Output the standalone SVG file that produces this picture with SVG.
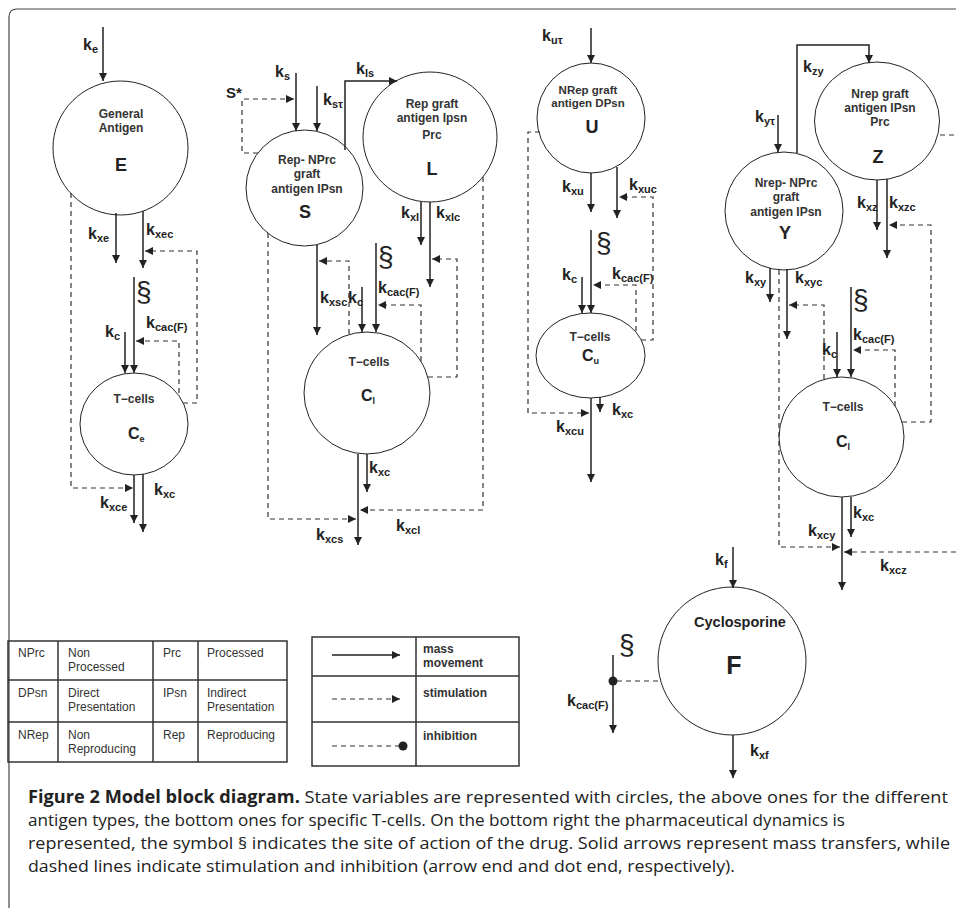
<svg xmlns="http://www.w3.org/2000/svg" width="956" height="908" viewBox="0 0 956 908">
<style>
.k{font-family:"Liberation Sans",Arial,sans-serif;font-weight:bold;font-size:16px;fill:#222}
.s{font-size:11px}
.nt{font-family:"Liberation Sans",Arial,sans-serif;font-weight:bold;font-size:12px;fill:#333;text-anchor:middle}
.big{font-family:"Liberation Sans",Arial,sans-serif;font-weight:bold;font-size:18px;fill:#222;text-anchor:middle}
.cc{font-family:"Liberation Sans",Arial,sans-serif;font-weight:bold;font-size:16px;fill:#222}
.cs{font-size:9px}
.sec{font-family:"Liberation Sans",Arial,sans-serif;font-size:28px;fill:#222}
.tb{font-family:"Liberation Sans",Arial,sans-serif;font-size:12px;fill:#333}
.lg{font-family:"Liberation Sans",Arial,sans-serif;font-weight:bold;font-size:12px;fill:#333}
.cap{font-family:"Open Sans","Liberation Sans",Arial,sans-serif;font-size:17px;fill:#222}
.node{fill:#fff;stroke:#222;stroke-width:1}
.m{fill:none;stroke:#222;stroke-width:1.5}
.d{fill:none;stroke:#333;stroke-width:1.2;stroke-dasharray:5,4}
.box{fill:none;stroke:#333;stroke-width:1.5}
</style>
<defs>
<marker id="ah" viewBox="0 0 10 10" refX="10" refY="5" markerWidth="8" markerHeight="8" markerUnits="userSpaceOnUse" orient="auto"><path d="M0,0 L10,5 L0,10 z" fill="#222"/></marker>
</defs>
<path d="M9,908 V17 Q9,9 17,9 H956" fill="none" stroke="#444" stroke-width="1.2"/>

<g id="E"><ellipse class="node" cx="120.5" cy="148" rx="67.5" ry="67"/>
<text class="nt" x="121" y="118">General</text><text class="nt" x="121" y="132">Antigen</text>
<text class="big" x="121" y="171">E</text></g>
<g id="Ce"><ellipse class="node" cx="134" cy="424" rx="54" ry="51"/>
<text class="nt" x="134" y="403">T−cells</text>
<text class="cc" x="128" y="439">C<tspan class="cs" dy="3">e</tspan></text></g>

<g id="S"><ellipse class="node" cx="304.5" cy="188" rx="58.5" ry="58"/>
<text class="nt" x="307" y="164">Rep- NPrc</text><text class="nt" x="307" y="178">graft</text><text class="nt" x="307" y="193">antigen IPsn</text>
<text class="big" x="305" y="218">S</text></g>
<g id="L"><ellipse class="node" cx="430" cy="137" rx="67" ry="65"/>
<text class="nt" x="432" y="108">Rep graft</text><text class="nt" x="432" y="122">antigen Ipsn</text><text class="nt" x="432" y="139">Prc</text>
<text class="big" x="432" y="175">L</text></g>
<g id="Cl"><ellipse class="node" cx="367" cy="393" rx="63" ry="61"/>
<text class="nt" x="369" y="366">T−cells</text>
<text class="cc" x="361" y="401">C<tspan class="cs" dy="3">l</tspan></text></g>

<g id="U"><ellipse class="node" cx="591" cy="118" rx="54" ry="55"/>
<text class="nt" x="588" y="94" style="font-size:11.5px">NRep graft</text><text class="nt" x="588" y="107" style="font-size:11.5px">antigen DPsn</text>
<text class="big" x="592" y="133">U</text></g>
<g id="Cu"><ellipse class="node" cx="590.5" cy="355.5" rx="54.5" ry="42.5"/>
<text class="nt" x="590" y="341">T−cells</text>
<text class="cc" x="582" y="361">C<tspan class="cs" dy="3">u</tspan></text></g>

<g id="Z"><ellipse class="node" cx="877" cy="121" rx="62.5" ry="59"/>
<text class="nt" x="880" y="98">Nrep graft</text><text class="nt" x="880" y="112">antigen IPsn</text><text class="nt" x="880" y="126">Prc</text>
<text class="big" x="878" y="163">Z</text></g>
<g id="Y"><ellipse class="node" cx="784" cy="211" rx="59" ry="59"/>
<text class="nt" x="786" y="187">Nrep- NPrc</text><text class="nt" x="786" y="201">graft</text><text class="nt" x="786" y="216">antigen IPsn</text>
<text class="big" x="785" y="239">Y</text></g>
<g id="Cl2"><ellipse class="node" cx="841.5" cy="437" rx="62.5" ry="60"/>
<text class="nt" x="843" y="411">T−cells</text>
<text class="cc" x="836" y="447">C<tspan class="cs" dy="3">l</tspan></text></g>

<g id="F"><ellipse class="node" cx="732" cy="661" rx="74" ry="74"/>
<text class="nt" x="740" y="627" style="font-size:14.5px;fill:#222">Cyclosporine</text>
<text class="big" x="734" y="674" style="font-size:25px">F</text></g>

<g id="connectors">
<path class="m" marker-end="url(#ah)" d="M103,27 V81"/>
<path class="m" marker-end="url(#ah)" d="M116,213 V263"/>
<path class="m" marker-end="url(#ah)" d="M143,211 V268"/>
<path class="d" marker-end="url(#ah)" d="M183,403 H197 V251 H145"/>
<path class="m" marker-end="url(#ah)" d="M134,277 V373"/>
<path class="m" marker-end="url(#ah)" d="M125,332 V373"/>
<path class="d" marker-end="url(#ah)" d="M179,393 V341 H136"/>
<path class="d" marker-end="url(#ah)" d="M71,193 V488 H133"/>
<path class="m" marker-end="url(#ah)" d="M134,475 V523"/>
<path class="m" marker-end="url(#ah)" d="M143,474 V532"/>

<path class="m" marker-end="url(#ah)" d="M296,73 V131"/>
<path class="m" marker-end="url(#ah)" d="M317,86 V131"/>
<path class="d" marker-end="url(#ah)" d="M258,153 H242 V99 H294"/>
<path class="m" marker-end="url(#ah)" d="M345,150 V81 H397"/>
<path class="m" marker-end="url(#ah)" d="M421,202 V245"/>
<path class="m" marker-end="url(#ah)" d="M430,202 V287"/>
<path class="d" marker-end="url(#ah)" d="M428,377 H457 V259 H432"/>
<path class="d" marker-end="url(#ah)" d="M483,177 V510 H360"/>
<path class="m" marker-end="url(#ah)" d="M376,243 V332"/>
<path class="m" marker-end="url(#ah)" d="M362,287 V332"/>
<path class="d" marker-end="url(#ah)" d="M421,361 V305 H378"/>
<path class="m" marker-end="url(#ah)" d="M317,245 V335"/>
<path class="d" marker-end="url(#ah)" d="M349,334 V261 H319"/>
<path class="m" marker-end="url(#ah)" d="M358,454 V545"/>
<path class="m" marker-end="url(#ah)" d="M367,454 V492"/>
<path class="d" marker-end="url(#ah)" d="M268,233 V519 H356"/>

<path class="m" marker-end="url(#ah)" d="M591,28 V63"/>
<path class="m" marker-end="url(#ah)" d="M591,173 V212"/>
<path class="m" marker-end="url(#ah)" d="M617,167 V218"/>
<path class="d" marker-end="url(#ah)" d="M641,340 H653 V197 H619"/>
<path class="m" marker-end="url(#ah)" d="M591,230 V313"/>
<path class="m" marker-end="url(#ah)" d="M582,277 V313"/>
<path class="d" marker-end="url(#ah)" d="M636,331 V285 H593"/>
<path class="d" marker-end="url(#ah)" d="M540,132 H528 V413 H589"/>
<path class="m" marker-end="url(#ah)" d="M591,398 V482"/>
<path class="m" marker-end="url(#ah)" d="M600,397 V412"/>

<path class="m" marker-end="url(#ah)" d="M797,153 V45 H869 V63"/>
<path class="m" marker-end="url(#ah)" d="M778,115 V152"/>
<path class="d" d="M940,135 H956"/>
<path class="m" marker-end="url(#ah)" d="M877,180 V230"/>
<path class="m" marker-end="url(#ah)" d="M887,179 V258"/>
<path class="d" marker-end="url(#ah)" d="M902,422 H931 V225 H889"/>
<path class="m" marker-end="url(#ah)" d="M770,268 V302"/>
<path class="m" marker-end="url(#ah)" d="M787,269 V339"/>
<path class="d" marker-end="url(#ah)" d="M779,270 V547 H840"/>
<path class="d" marker-end="url(#ah)" d="M824,379 V305 H789"/>
<path class="m" marker-end="url(#ah)" d="M851,287 V377"/>
<path class="m" marker-end="url(#ah)" d="M837,332 V377"/>
<path class="d" marker-end="url(#ah)" d="M895,406 V350 H853"/>
<path class="m" marker-end="url(#ah)" d="M842,497 V590"/>
<path class="m" marker-end="url(#ah)" d="M851,497 V537"/>
<path class="d" marker-end="url(#ah)" d="M956,552 H844"/>

<path class="m" marker-end="url(#ah)" d="M733,547 V588"/>
<path class="m" marker-end="url(#ah)" d="M733,735 V778"/>
<path class="m" marker-end="url(#ah)" d="M613,655 V733"/>
<path class="d" d="M617,681 H658"/>
<circle cx="613" cy="681" r="4.5" fill="#222"/>
</g>

<g id="labels">
<text class="k" x="83" y="50">k<tspan class="s" dy="3">e</tspan></text>
<text class="k" x="88" y="239">k<tspan class="s" dy="3">xe</tspan></text>
<text class="k" x="146" y="235">k<tspan class="s" dy="3">xec</tspan></text>
<text class="sec" x="136" y="301">§</text>
<text class="k" x="105" y="337">k<tspan class="s" dy="3">c</tspan></text>
<text class="k" x="146" y="328">k<tspan class="s" dy="3">cac(F)</tspan></text>
<text class="k" x="100" y="508">k<tspan class="s" dy="3">xce</tspan></text>
<text class="k" x="154" y="495">k<tspan class="s" dy="3">xc</tspan></text>

<text class="k" x="275" y="77">k<tspan class="s" dy="3">s</tspan></text>
<text class="k" x="226" y="98" style="font-size:15px">S*</text>
<text class="k" x="323" y="105">k<tspan class="s" dy="3">sτ</tspan></text>
<text class="k" x="356" y="74">k<tspan class="s" dy="3">ls</tspan></text>
<text class="k" x="401" y="218">k<tspan class="s" dy="3">xl</tspan></text>
<text class="k" x="436" y="218">k<tspan class="s" dy="3">xlc</tspan></text>
<text class="sec" x="378" y="266">§</text>
<text class="k" x="378" y="293">k<tspan class="s" dy="3">cac(F)</tspan></text>
<text class="k" x="320" y="303">k<tspan class="s" dy="3">xsc</tspan></text>
<text class="k" x="348" y="303">k<tspan class="s" dy="3">c</tspan></text>
<text class="k" x="369" y="473">k<tspan class="s" dy="3">xc</tspan></text>
<text class="k" x="316" y="540">k<tspan class="s" dy="3">xcs</tspan></text>
<text class="k" x="396" y="531">k<tspan class="s" dy="3">xcl</tspan></text>

<text class="k" x="542" y="41">k<tspan class="s" dy="3">uτ</tspan></text>
<text class="k" x="562" y="192">k<tspan class="s" dy="3">xu</tspan></text>
<text class="k" x="629" y="190">k<tspan class="s" dy="3">xuc</tspan></text>
<text class="sec" x="596" y="252">§</text>
<text class="k" x="562" y="280">k<tspan class="s" dy="3">c</tspan></text>
<text class="k" x="612" y="279">k<tspan class="s" dy="3">cac(F)</tspan></text>
<text class="k" x="612" y="415">k<tspan class="s" dy="3">xc</tspan></text>
<text class="k" x="556" y="432">k<tspan class="s" dy="3">xcu</tspan></text>

<text class="k" x="803" y="72">k<tspan class="s" dy="3">zy</tspan></text>
<text class="k" x="755" y="122">k<tspan class="s" dy="3">yτ</tspan></text>
<text class="k" x="857" y="208">k<tspan class="s" dy="3">xz</tspan></text>
<text class="k" x="889" y="208">k<tspan class="s" dy="3">xzc</tspan></text>
<text class="k" x="745" y="283">k<tspan class="s" dy="3">xy</tspan></text>
<text class="k" x="795" y="283">k<tspan class="s" dy="3">xyc</tspan></text>
<text class="sec" x="853" y="309">§</text>
<text class="k" x="853" y="340">k<tspan class="s" dy="3">cac(F)</tspan></text>
<text class="k" x="822" y="355">k<tspan class="s" dy="3">c</tspan></text>
<text class="k" x="853" y="518">k<tspan class="s" dy="3">xc</tspan></text>
<text class="k" x="808" y="536">k<tspan class="s" dy="3">xcy</tspan></text>
<text class="k" x="880" y="571">k<tspan class="s" dy="3">xcz</tspan></text>

<text class="k" x="715" y="565">k<tspan class="s" dy="3">f</tspan></text>
<text class="k" x="750" y="756">k<tspan class="s" dy="3">xf</tspan></text>
<text class="sec" x="619" y="654">§</text>
<text class="k" x="567" y="706">k<tspan class="s" dy="3">cac(F)</tspan></text>
</g>

<g id="abbrev-table">
<rect class="box" x="8" y="641" width="279" height="121"/>
<path class="box" d="M8,680 H287 M8,722 H287 M58,641 V762 M153,641 V762 M198,641 V762"/>
<text class="tb" x="18" y="657">NPrc</text><text class="tb" x="68" y="657">Non</text><text class="tb" x="68" y="671">Processed</text>
<text class="tb" x="163" y="657">Prc</text><text class="tb" x="207" y="657">Processed</text>
<text class="tb" x="18" y="697">DPsn</text><text class="tb" x="68" y="697">Direct</text><text class="tb" x="68" y="711">Presentation</text>
<text class="tb" x="163" y="697">IPsn</text><text class="tb" x="207" y="697">Indirect</text><text class="tb" x="207" y="711">Presentation</text>
<text class="tb" x="18" y="739">NRep</text><text class="tb" x="68" y="739">Non</text><text class="tb" x="68" y="753">Reproducing</text>
<text class="tb" x="163" y="739">Rep</text><text class="tb" x="207" y="739">Reproducing</text>
</g>

<g id="legend">
<rect class="box" x="312" y="637" width="207" height="129"/>
<path class="box" d="M312,676 H519 M312,722 H519 M416,637 V766"/>
<path class="m" marker-end="url(#ah)" d="M332,655 H400"/>
<path class="d" marker-end="url(#ah)" d="M332,699 H400"/>
<path class="d" d="M332,746 H399"/>
<circle cx="403" cy="746" r="4.5" fill="#222"/>
<text class="lg" x="423" y="653">mass</text><text class="lg" x="423" y="667">movement</text>
<text class="lg" x="423" y="697">stimulation</text>
<text class="lg" x="423" y="740">inhibition</text>
</g>

<g id="caption">
<text class="cap" x="28" y="803" textLength="920" lengthAdjust="spacingAndGlyphs"><tspan font-weight="bold">Figure 2 Model block diagram.</tspan> State variables are represented with circles, the above ones for the different</text>
<text class="cap" x="28" y="826" textLength="817" lengthAdjust="spacingAndGlyphs">antigen types, the bottom ones for specific T-cells. On the bottom right the pharmaceutical dynamics is</text>
<text class="cap" x="28" y="849" textLength="922" lengthAdjust="spacingAndGlyphs">represented, the symbol § indicates the site of action of the drug. Solid arrows represent mass transfers, while</text>
<text class="cap" x="28" y="872" textLength="707" lengthAdjust="spacingAndGlyphs">dashed lines indicate stimulation and inhibition (arrow end and dot end, respectively).</text>
</g>
</svg>
